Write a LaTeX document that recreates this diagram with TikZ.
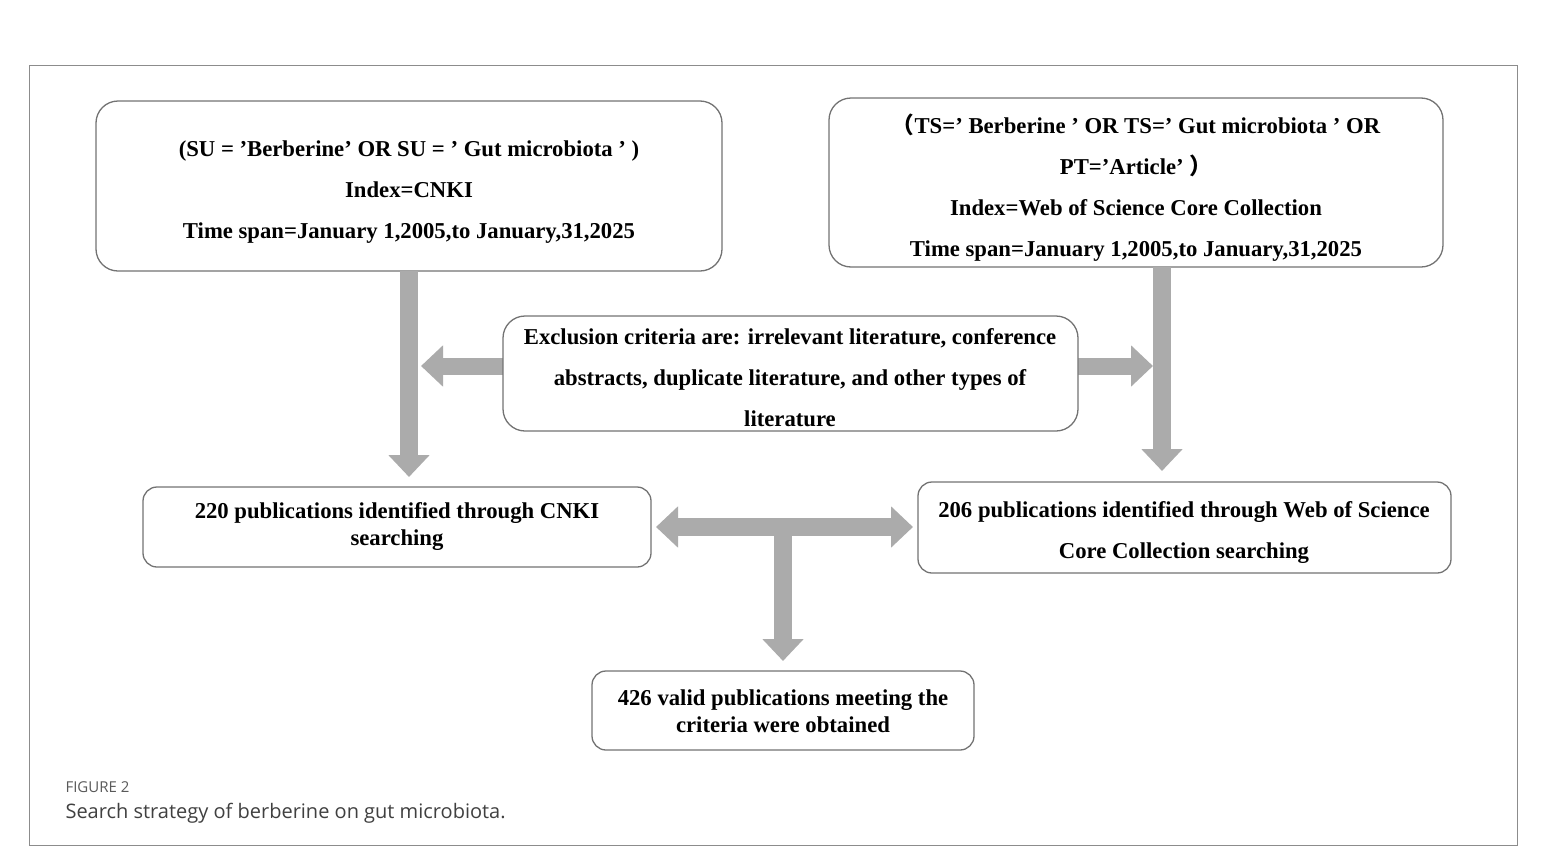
\documentclass[tikz,border=0pt]{standalone}
\usepackage{fontspec}
\setmainfont{Liberation Serif}[Ligatures=ResetAll]
\newfontfamily\capfont{Open Sans}
\newfontfamily\cjk{Noto Sans CJK SC}
\usetikzlibrary{arrows.meta}
\newcommand\sq{\char"27\relax}
\begin{document}
\begin{tikzpicture}[x=1pt,y=-1pt,
  box/.style={draw=black!55,line width=1.3pt,rounded corners=22pt,fill=white,inner sep=0pt},
  txt/.style={font=\fontsize{22.7}{41}\selectfont\bfseries,align=center},
  txs/.style={font=\fontsize{22.7}{27}\selectfont\bfseries,align=center},
  barr/.style={line width=18pt,draw=black!33,-{Triangle[width=40pt,length=22pt]}},
  barr2/.style={line width=18pt,draw=black!33,{Triangle[width=40pt,length=22pt]}-{Triangle[width=40pt,length=22pt]}}]
\useasboundingbox (0,0) rectangle (1547,846);
\draw[black!45,line width=0.8pt] (29,65) rectangle (1517,845);
\draw[box] (96,101) rectangle (722,271); \node[txt] (A) at (409,192) {(SU = \sq Berberine\sq{} OR SU = \sq{} Gut microbiota \sq{} )\\Index=CNKI\\Time span=January 1,2005,to January,31,2025};
\draw[box] (829,98) rectangle (1443,267); \node[txt] (B) at (1136,188) {{\cjk（}TS=\sq{} Berberine \sq{} OR TS=\sq{} Gut microbiota \sq{} OR\\PT=\sq Article’ {\cjk）}\\Index=Web of Science Core Collection\\Time span=January 1,2005,to January,31,2025};
\coordinate (a1) at (409,271); \coordinate (a2) at (409,477);
\coordinate (b1) at (1162,267); \coordinate (b2) at (1162,471);
\draw[barr] (a1) -- (a2);
\draw[barr] (b1) -- (b2);
\coordinate (c1) at (503,366); \coordinate (c2) at (421,366);
\coordinate (c3) at (1078,366); \coordinate (c4) at (1153,366);
\draw[barr,line width=17pt] (c1) -- (c2);
\draw[barr,line width=17pt] (c3) -- (c4);
\coordinate (d1) at (656,527); \coordinate (d2) at (913,527);
\coordinate (m1) at (783,535); \coordinate (m2) at (783,661);
\draw[barr] (m1) -- (m2);
\draw[barr2] (d1) -- (d2);
\draw[box] (503,316) rectangle (1078,431); \node[txt] (C) at (790,378) {Exclusion criteria are: irrelevant literature, conference\\abstracts, duplicate literature, and other types of\\literature};
\draw[box,rounded corners=14pt] (143,487) rectangle (651,567); \node[txs] (D) at (397,527) {220 publications identified through CNKI\\searching};
\draw[box,rounded corners=14pt] (918,482) rectangle (1451,573); \node[txt] (E) at (1184,533) {206 publications identified through Web of Science\\Core Collection searching};
\draw[box,rounded corners=14pt] (592,671) rectangle (974,750); \node[txs] (F) at (783,711) {426 valid publications meeting the\\criteria were obtained};
\node[anchor=west,font=\capfont\fontsize{15}{18}\selectfont,text=black!65] (cap1) at (62,787) {FIGURE 2};
\node[anchor=west,font=\capfont\fontsize{20}{24}\selectfont,text=black!75] (cap2) at (62,813) {Search strategy of berberine on gut microbiota.};
\end{tikzpicture}
\end{document}
